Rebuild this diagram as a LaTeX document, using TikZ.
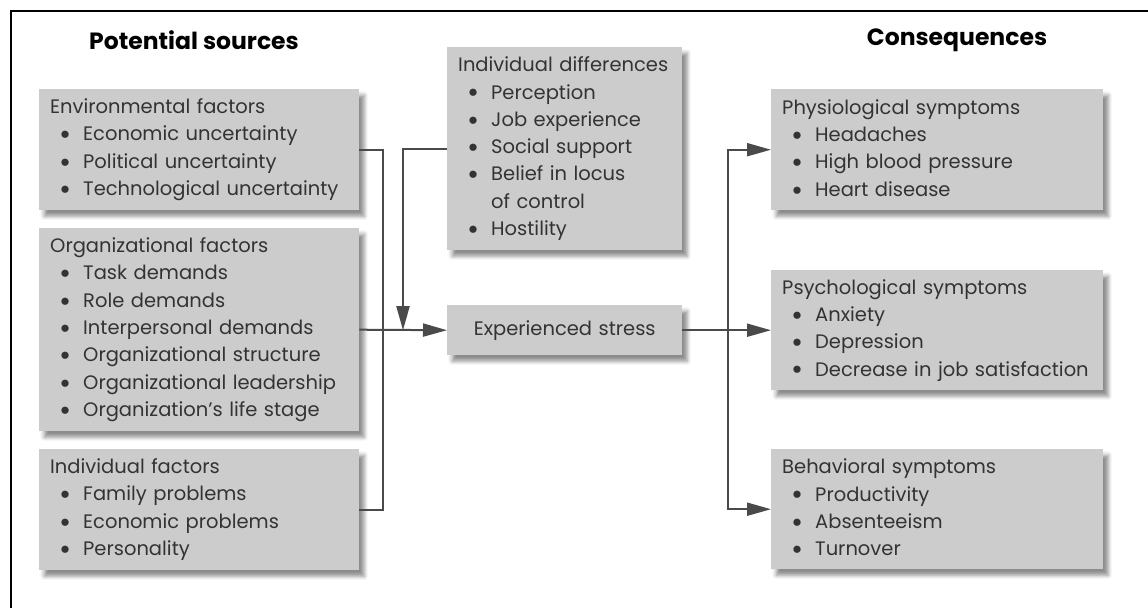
\documentclass[tikz,border=0pt]{standalone}
\usepackage{fontspec}
\setmainfont{Poppins}
\usetikzlibrary{arrows.meta,shadows.blur}
\definecolor{boxgray}{HTML}{CCCCCC}
\definecolor{inkgray}{HTML}{333333}
\definecolor{linegray}{HTML}{4A4A4A}
\tikzset{%
  box/.style={rectangle, fill=boxgray, text=inkgray, align=left, anchor=north west,
              inner xsep=11pt, inner ysep=0pt,
              font=\fontsize{19.5}{27.3}\selectfont,
              blur shadow={shadow xshift=5pt, shadow yshift=-6pt, shadow opacity=45, shadow blur radius=4pt}},
  conn/.style={draw=linegray, line width=2pt},
  arr/.style={conn, -{Triangle[length=24pt, width=13pt]}},
  head/.style={font=\fontsize{23.5}{26}\selectfont\bfseries, text=black},
}
\newcommand{\itm}{\hspace*{9pt}\makebox[24pt][l]{\raisebox{-0.2em}{\scalebox{1.5}{\textbullet}}}}

\begin{document}
\begin{tikzpicture}[x=1pt, y=-1pt]
    \useasboundingbox (0,0) rectangle (1148,608);
    % frame
    \draw[line width=2pt] (11,608) -- (11,11) -- (1148,11);

    % headings
    \node[head] (hsrc) at (194,40) {Potential sources};
    \node[head] (hcon) at (957,40) {Consequences};

    % potential sources
    \node[box, text width=298pt, minimum height=121pt] (env) at (39,89)
        {Environmental factors\\ \itm Economic uncertainty\\ \itm Political uncertainty\\ \itm Technological uncertainty};
    \node[box, text width=298pt, minimum height=203pt] (org) at (39,228)
        {Organizational factors\\ \itm Task demands\\ \itm Role demands\\ \itm Interpersonal demands\\
         \itm Organizational structure\\ \itm Organizational leadership\\ \itm Organization’s life stage};
    \node[box, text width=298pt, minimum height=121pt] (indf) at (39,449)
        {Individual factors\\ \itm Family problems\\ \itm Economic problems\\ \itm Personality};

    % moderator and stress
    \node[box, text width=213pt, minimum height=203pt] (diff) at (447,47)
        {Individual differences\\ \itm Perception\\ \itm Job experience\\ \itm Social support\\
         \itm Belief in locus\\ \hspace*{33pt}of control\\ \itm Hostility};
    \node[box, text width=213pt, minimum height=50pt, align=center] (stress) at (447,305)
        {Experienced stress};

    % consequences
    \node[box, text width=310pt, minimum height=121pt] (phys) at (771,89)
        {Physiological symptoms\\ \itm Headaches\\ \itm High blood pressure\\ \itm Heart disease};
    \node[box, text width=310pt, minimum height=120pt] (psych) at (771,270)
        {Psychological symptoms\\ \itm Anxiety\\ \itm Depression\\ \itm Decrease in job satisfaction};
    \node[box, text width=310pt, minimum height=120pt] (behav) at (771,449)
        {Behavioral symptoms\\ \itm Productivity\\ \itm Absenteeism\\ \itm Turnover};

    % sources into stress
    \draw[conn] (env.east) -- ++(24,0) |- (indf.east);
    \draw[arr] (org.east) -- (stress.west);
    \draw[arr] (diff.west) -| ([xshift=-44pt]stress.west);

    % stress into consequences
    \draw[arr] (stress.east) -- (psych.west);
    \draw[arr] ([xshift=46pt]stress.east) |- (phys.west);
    \draw[arr] ([xshift=46pt]stress.east) |- (behav.west);
\end{tikzpicture}
\end{document}
